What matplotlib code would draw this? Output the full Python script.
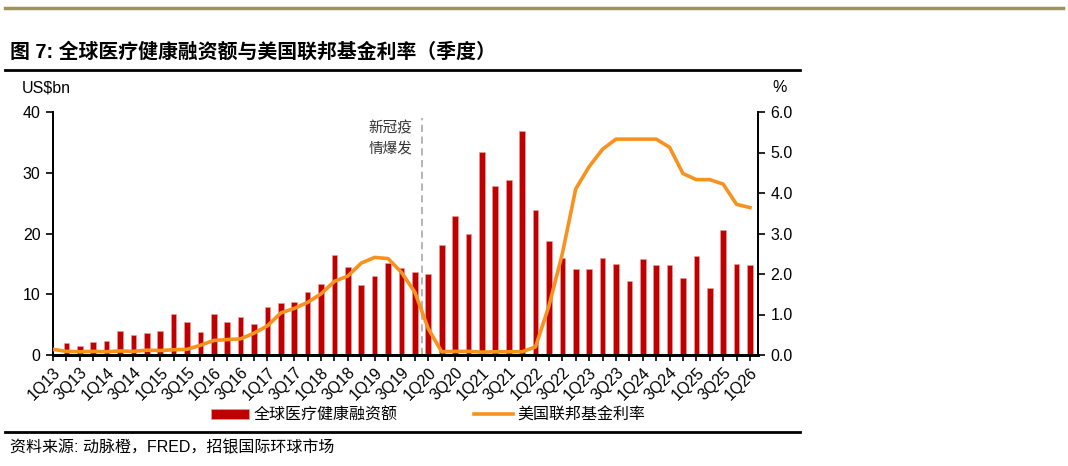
import matplotlib
matplotlib.use('Agg')
import matplotlib.pyplot as plt
from matplotlib.lines import Line2D
from matplotlib.patches import Patch
from matplotlib.ticker import FixedLocator, MultipleLocator, FormatStrFormatter

plt.rcParams['font.family'] = ['Liberation Sans', 'Noto Sans CJK SC']
plt.rcParams['axes.unicode_minus'] = False

# Quarters 1Q13 .. 1Q26
quarters = [f"{q}Q{y:02d}" for y in range(13, 27) for q in range(1, 5)][:53]

# Global healthcare funding, US$bn
funding = [0, 1.9, 1.5, 2.1,
           2.25, 3.95, 3.3, 3.7,
           3.95, 6.75, 5.5, 3.8,
           6.8, 5.35, 6.25, 5.15,
           7.85, 8.5, 8.75, 10.45,
           11.65, 16.5, 14.45, 11.45,
           13.05, 15.1, 14.25, 13.65,
           13.4, 18.15, 22.9, 19.95,
           33.4, 27.9, 28.85, 36.8,
           23.9, 18.8, 16.0, 14.1,
           14.15, 16.0, 15.0, 12.2,
           15.8, 14.8, 14.85, 12.65,
           16.35, 11.0, 20.6, 15.0,
           14.85]

# US federal funds rate, %
fed_rate = [0.14, 0.09, 0.08, 0.09,
            0.08, 0.10, 0.09, 0.12,
            0.11, 0.13, 0.14, 0.24,
            0.36, 0.38, 0.40, 0.54,
            0.72, 1.04, 1.15, 1.30,
            1.51, 1.82, 1.95, 2.27,
            2.41, 2.38, 2.04, 1.55,
            0.65, 0.08, 0.09, 0.09,
            0.07, 0.08, 0.08, 0.08,
            0.20, 1.21, 2.50, 4.10,
            4.65, 5.08, 5.33, 5.33,
            5.33, 5.33, 5.13, 4.48,
            4.33, 4.33, 4.22, 3.72,
            3.64]

covid_pos = 27.5  # between 4Q19 and 1Q20

RED = '#C00000'
ORANGE = '#F8921F'

W, H = 1068, 466
fig = plt.figure(figsize=(W / 100, H / 100), dpi=100)

# Decorative rules
fig.add_artist(Line2D([5 / W, 1063 / W], [1 - 8 / H, 1 - 8 / H], color='#9E9261', lw=2.5))
fig.add_artist(Line2D([5 / W, 800 / W], [1 - 70 / H, 1 - 70 / H], color='black', lw=2))
fig.add_artist(Line2D([5 / W, 800 / W], [1 - 432 / H, 1 - 432 / H], color='black', lw=2))

# Title and source
fig.text(10 / W, 1 - 52 / H, '图 7: 全球医疗健康融资额与美国联邦基金利率（季度）',
         fontsize=14.3, fontweight='bold', ha='left', va='center')
fig.text(10 / W, 1 - 448 / H, '资料来源: 动脉橙，FRED，招银国际环球市场',
         fontsize=11.5, ha='left', va='center')

# Axes
ax = fig.add_axes([53 / W, 1 - 355 / H, (758 - 53) / W, (355 - 112) / H])
ax2 = ax.twinx()

x = list(range(len(quarters)))
ax.bar(x, funding, width=0.42, color=RED, edgecolor='#E8A0A0', linewidth=0.4, zorder=2)
ax2.plot(x, fed_rate, color=ORANGE, lw=2.6, solid_joinstyle='round', zorder=3)

ax.axvline(covid_pos, ymin=0, ymax=0.975, color='#B0B0B0', lw=1.3, ls=(0, (4, 2.5)), zorder=1)
ax.text(26.8, 35.6, '新冠疫\n情爆发', ha='right', va='center', fontsize=10.5,
        linespacing=1.55, color='#333333')

ax.set_xlim(0, 52.6)
ax.set_ylim(0, 40)
ax2.set_ylim(0, 6)

ax.yaxis.set_major_locator(MultipleLocator(10))
ax2.yaxis.set_major_locator(MultipleLocator(1))
ax2.yaxis.set_major_formatter(FormatStrFormatter('%.1f'))

ax.xaxis.set_major_locator(FixedLocator(x))
ax.set_xticklabels([q if i % 2 == 0 else '' for i, q in enumerate(quarters)],
                   rotation=45, ha='right', va='top', rotation_mode='anchor', fontsize=11.5)

for a in (ax, ax2):
    a.spines['top'].set_visible(False)
    a.spines['left'].set_linewidth(1.3)
    a.spines['right'].set_linewidth(1.3)
    a.spines['bottom'].set_linewidth(2)

ax.tick_params(axis='y', direction='out', length=5, width=1.2, labelsize=11.5, pad=4)
ax2.tick_params(axis='y', direction='out', length=5, width=1.2, labelsize=11.5, pad=4)
ax.tick_params(axis='x', direction='out', length=4, width=1.2, pad=3)

# Axis unit labels
fig.text(22 / W, 1 - 88 / H, 'US$bn', fontsize=11.5, ha='left', va='center')
fig.text(780 / W, 1 - 88 / H, '%', fontsize=11.5, ha='center', va='center')

# Legend
handles = [Patch(facecolor=RED, edgecolor='#E8A0A0', linewidth=0.4),
           Line2D([], [], color=ORANGE, lw=2.6)]
fig.legend(handles, ['全球医疗健康融资额', '美国联邦基金利率'],
           loc='center', bbox_to_anchor=(428 / W, 1 - 415 / H), ncol=2, frameon=False,
           fontsize=11.5, handlelength=2.4, handleheight=0.55, handletextpad=0.3,
           columnspacing=4.8)

fig.savefig('out.png', dpi=100)
